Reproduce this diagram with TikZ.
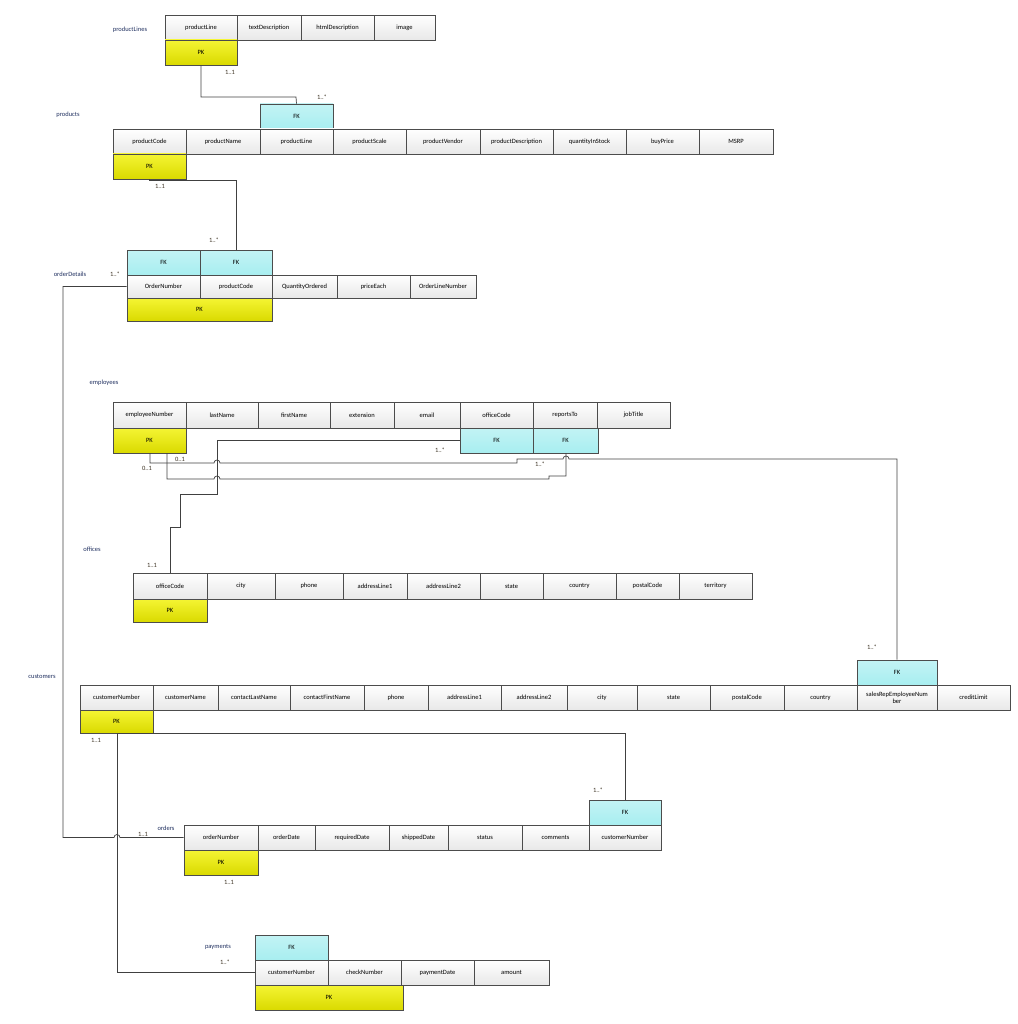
\documentclass[tikz,border=0pt]{standalone}
\usepackage{fontspec}
\setmainfont{Carlito}
\begin{document}
\definecolor{fkc}{HTML}{A8EEF0}
\definecolor{pkc}{HTML}{F2F200}
\definecolor{lbl}{HTML}{1F2F5F}
\definecolor{card}{HTML}{3A3020}
\tikzset{
 base/.style={draw=gray!60!black, line width=0.6pt, inner sep=0pt, font=\fontsize{6.5}{6.8}\selectfont, align=center},
 cell/.style={base, top color=white, bottom color=gray!18},
 pk/.style={base, top color=pkc!80!white, bottom color=pkc!90!black},
 fk/.style={base, top color=fkc!70!white, bottom color=fkc},
 tlabel/.style={font=\fontsize{6.5}{7}\selectfont, text=lbl, anchor=center},
 clabel/.style={font=\fontsize{6.5}{7}\selectfont, text=card, anchor=center},
 rel/.style={draw=black!75, line width=0.7pt}
}
\newcommand\mycell[7]{\pgfmathsetmacro\cw{#4-#3}\pgfmathsetmacro\ch{#6-#5}%
 \node[#2, minimum width=\cw pt, minimum height=\ch pt] (#1) at ({(#3+#4)/2},{(#5+#6)/2}) {#7};}
\begin{tikzpicture}[x=1pt,y=-1pt]
\useasboundingbox (0,0) rectangle (1017,1024);
% productLines
\node[tlabel] (lpl) at (130,30) {productLines};
\mycell{pl1}{cell}{165}{237}{15}{40}{productLine}
\mycell{pl2}{cell}{237}{301}{15}{40}{textDescription}
\mycell{pl3}{cell}{301}{374}{15}{40}{htmlDescription}
\mycell{pl4}{cell}{374}{435}{15}{40}{image}
\mycell{plpk}{pk}{165}{237}{40}{65}{PK}
% products
\node[tlabel] (lp) at (68,115) {products};
\mycell{pfk}{fk}{260}{333}{104}{129}{FK}
\mycell{p1}{cell}{113}{186}{129}{154}{productCode}
\mycell{p2}{cell}{186}{260}{129}{154}{productName}
\mycell{p3}{cell}{260}{333}{129}{154}{productLine}
\mycell{p4}{cell}{333}{406}{129}{154}{productScale}
\mycell{p5}{cell}{406}{480}{129}{154}{productVendor}
\mycell{p6}{cell}{480}{553}{129}{154}{productDescription}
\mycell{p7}{cell}{553}{626}{129}{154}{quantityInStock}
\mycell{p8}{cell}{626}{699}{129}{154}{buyPrice}
\mycell{p9}{cell}{699}{773}{129}{154}{MSRP}
\mycell{ppk}{pk}{113}{186}{154}{179}{PK}
% orderDetails
\node[tlabel] (lod) at (70,274) {orderDetails};
\mycell{odfk1}{fk}{127}{200}{250}{275}{FK}
\mycell{odfk2}{fk}{200}{272}{250}{275}{FK}
\mycell{od1}{cell}{127}{200}{275}{298}{OrderNumber}
\mycell{od2}{cell}{200}{272}{275}{298}{productCode}
\mycell{od3}{cell}{272}{337}{275}{298}{QuantityOrdered}
\mycell{od4}{cell}{337}{410}{275}{298}{priceEach}
\mycell{od5}{cell}{410}{476}{275}{298}{OrderLineNumber}
\mycell{odpk}{pk}{127}{272}{298}{321}{PK}
% employees
\node[tlabel] (le) at (104,383) {employees};
\mycell{e1}{cell}{113}{186}{402}{428}{employeeNumber}
\mycell{e2}{cell}{186}{258}{402}{428}{lastName}
\mycell{e3}{cell}{258}{330}{402}{428}{firstName}
\mycell{e4}{cell}{330}{394}{402}{428}{extension}
\mycell{e5}{cell}{394}{460}{402}{428}{email}
\mycell{e6}{cell}{460}{533}{402}{428}{officeCode}
\mycell{e7}{cell}{533}{597}{402}{428}{reportsTo}
\mycell{e8}{cell}{597}{670}{402}{428}{jobTitle}
\mycell{epk}{pk}{113}{186}{428}{453}{PK}
\mycell{efk1}{fk}{460}{533}{428}{453}{FK}
\mycell{efk2}{fk}{533}{598}{428}{453}{FK}
% offices
\node[tlabel] (lo) at (92,549) {offices};
\mycell{o1}{cell}{133}{207}{573}{599}{officeCode}
\mycell{o2}{cell}{207}{275}{573}{599}{city}
\mycell{o3}{cell}{275}{343}{573}{599}{phone}
\mycell{o4}{cell}{343}{407}{573}{599}{addressLine1}
\mycell{o5}{cell}{407}{480}{573}{599}{addressLine2}
\mycell{o6}{cell}{480}{543}{573}{599}{state}
\mycell{o7}{cell}{543}{616}{573}{599}{country}
\mycell{o8}{cell}{616}{679}{573}{599}{postalCode}
\mycell{o9}{cell}{679}{752}{573}{599}{territory}
\mycell{opk}{pk}{133}{207}{599}{622}{PK}
% customers
\node[tlabel] (lc) at (42,676) {customers};
\mycell{cfk}{fk}{857}{937}{660}{685}{FK}
\mycell{c1}{cell}{80}{153}{685}{710}{customerNumber}
\mycell{c2}{cell}{153}{218}{685}{710}{customerName}
\mycell{c3}{cell}{218}{290}{685}{710}{contactLastName}
\mycell{c4}{cell}{290}{364}{685}{710}{contactFirstName}
\mycell{c5}{cell}{364}{428}{685}{710}{phone}
\mycell{c6}{cell}{428}{501}{685}{710}{addressLine1}
\mycell{c7}{cell}{501}{567}{685}{710}{addressLine2}
\mycell{c8}{cell}{567}{637}{685}{710}{city}
\mycell{c9}{cell}{637}{710}{685}{710}{state}
\mycell{c10}{cell}{710}{784}{685}{710}{postalCode}
\mycell{c11}{cell}{784}{857}{685}{710}{country}
\mycell{c12}{cell}{857}{937}{685}{710}{salesRepEmployeeNum\\ber}
\mycell{c13}{cell}{937}{1010}{685}{710}{creditLimit}
\mycell{cpk}{pk}{80}{153}{710}{733}{PK}
% orders
\node[tlabel] (lor) at (166,828) {orders};
\mycell{orfk}{fk}{589}{661}{800}{825}{FK}
\mycell{or1}{cell}{184}{258}{825}{850}{orderNumber}
\mycell{or2}{cell}{258}{315}{825}{850}{orderDate}
\mycell{or3}{cell}{315}{389}{825}{850}{requiredDate}
\mycell{or4}{cell}{389}{448}{825}{850}{shippedDate}
\mycell{or5}{cell}{448}{522}{825}{850}{status}
\mycell{or6}{cell}{522}{589}{825}{850}{comments}
\mycell{or7}{cell}{589}{661}{825}{850}{customerNumber}
\mycell{orpk}{pk}{184}{258}{850}{875}{PK}
% payments
\node[tlabel] (lpa) at (218,947) {payments};
\mycell{pafk}{fk}{255}{328}{935}{960}{FK}
\mycell{pa1}{cell}{255}{328}{960}{985}{customerNumber}
\mycell{pa2}{cell}{328}{401}{960}{985}{checkNumber}
\mycell{pa3}{cell}{401}{474}{960}{985}{paymentDate}
\mycell{pa4}{cell}{474}{549}{960}{985}{amount}
\mycell{papk}{pk}{255}{403}{985}{1010}{PK}
% relations
\draw[rel] (plpk.south) |- (296,97) -- (pfk.north);
\draw[rel] (ppk.south) |- (236,180) -- (odfk2.north);
\draw[rel] (od1.west) -| (63,837.5) -- (114,837.5) arc[start angle=180,end angle=0,radius=3pt] -- (or1.west);
\draw[rel] (150,453) |- (214,463) arc[start angle=180,end angle=0,radius=3pt] -- (517,463) -- (517,459) -- (563,459) arc[start angle=180,end angle=0,radius=3pt] -| (cfk.north);
\draw[rel] (167,453) |- (214,479) arc[start angle=180,end angle=0,radius=3pt] -- (549,479) -- (549,476) -| (566,453);
\draw[rel] (efk1.west) -| (217,494) -| (180,527) -| (170,573);
\draw[rel] (117,733) -- (625,733) -- (orfk.north);
\draw[rel] (117,733) |- (pa1.west);
% cardinalities
\node[clabel] (k1) at (230,72) {1..1};
\node[clabel] (k2) at (322,97) {1..*};
\node[clabel] (k3) at (160,186) {1..1};
\node[clabel] (k4) at (214,240) {1..*};
\node[clabel] (k5) at (115,274) {1..*};
\node[clabel] (k6) at (147,468) {0..1};
\node[clabel] (k7) at (180,459) {0..1};
\node[clabel] (k8) at (440,450) {1..*};
\node[clabel] (k9) at (540,464) {1..*};
\node[clabel] (k10) at (152,565) {1..1};
\node[clabel] (k11) at (872,647) {1..*};
\node[clabel] (k12) at (96,740) {1..1};
\node[clabel] (k13) at (143,834) {1..1};
\node[clabel] (k14) at (598,790) {1..*};
\node[clabel] (k15) at (229,882) {1..1};
\node[clabel] (k16) at (225,962) {1..*};
\end{tikzpicture}
\end{document}
